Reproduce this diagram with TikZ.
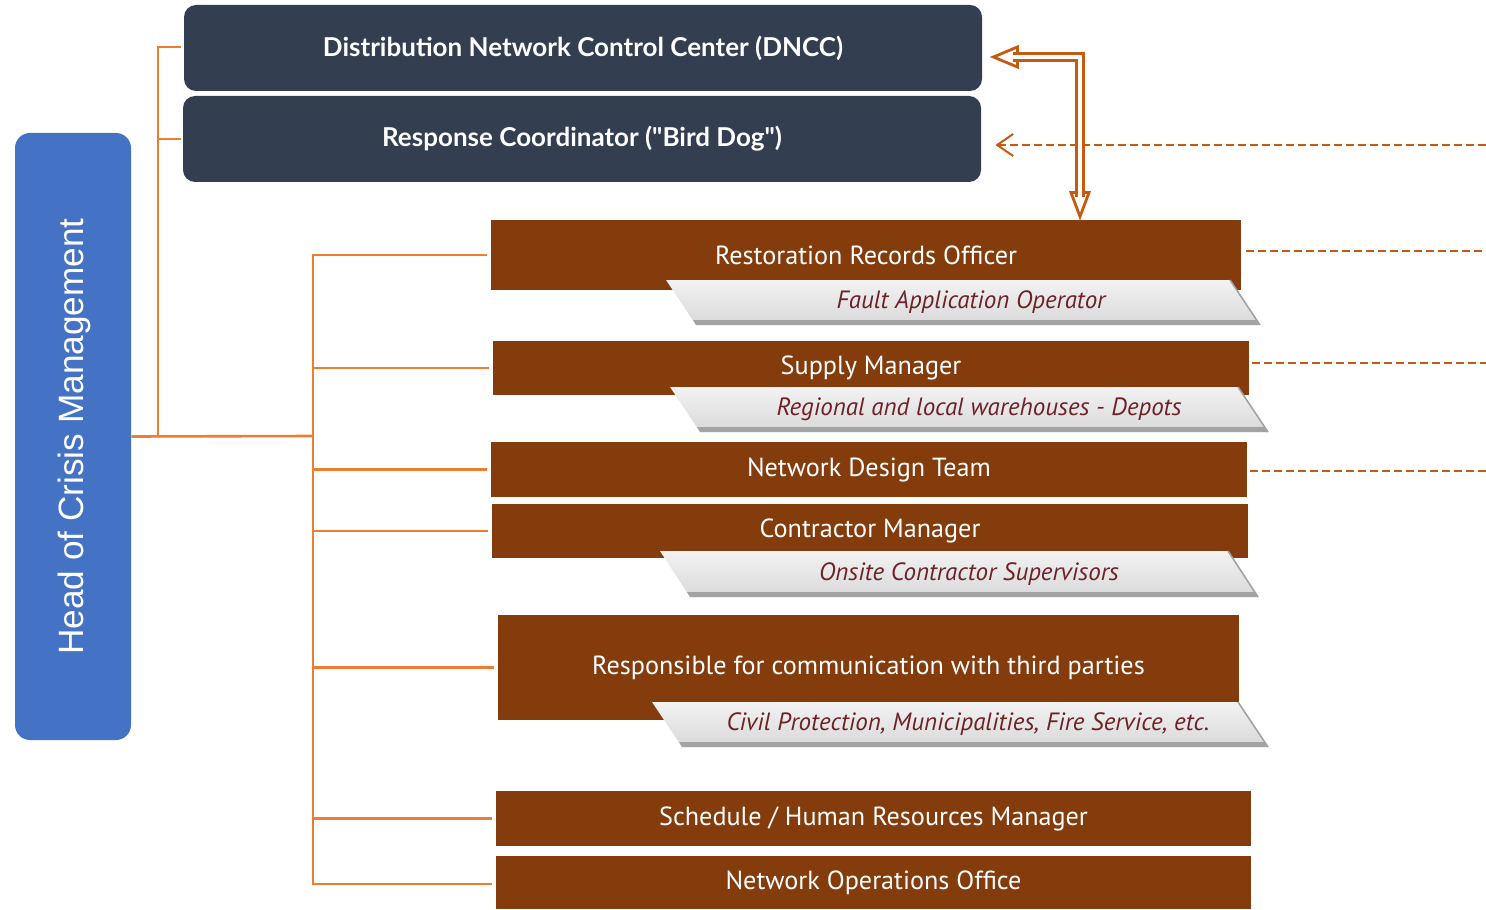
\documentclass[tikz,border=0pt]{standalone}
\usepackage{fontspec}
\usetikzlibrary{arrows.meta,calc}
\newfontfamily\headfont{Liberation Sans}
\newfontfamily\topfont{Lato}
\newfontfamily\boxfont{PT Sans}
\definecolor{headblue}{HTML}{4472C4}
\definecolor{navy}{HTML}{333F50}
\definecolor{rust}{HTML}{843C0C}
\definecolor{linkorange}{HTML}{ED7D31}
\definecolor{darkorange}{HTML}{C55A11}
\definecolor{tagtext}{HTML}{6E2226}
\definecolor{tagshade}{HTML}{A3A3A3}
\tikzset{
  headbox/.style={fill=headblue, rounded corners=7.5pt, inner sep=0pt},
  topbox/.style={fill=navy, rounded corners=6pt, inner sep=0pt, text=white,
    font=\topfont\bfseries\fontsize{13}{16}\selectfont},
  rolebox/.style={fill=rust, inner sep=0pt, text=white,
    font=\boxfont\fontsize{13.1}{15}\selectfont},
  tagbody/.style={top color=white!95!black, bottom color=white!85!black},
  tagtxt/.style={inner sep=0pt, text=tagtext, font=\boxfont\itshape\fontsize{12.5}{14}\selectfont},
  bracket/.style={draw=linkorange, line width=1.3pt},
  feedline/.style={draw=darkorange, line width=1pt, dash pattern=on 4pt off 2pt},
  dblline/.style={draw=darkorange, double=white, double distance=2.4pt, line width=1.4pt, line join=miter},
  dbltip/.style={draw=darkorange, fill=white, line width=1.4pt, line join=miter},
}
% grey slanted tag under a role box:
% #1 top y, #2 bottom y, #3 left x at top, #4 right x at top, #5 text x, #6 label
\newcommand\greytag[6]{%
  \path[tagbody] (#3,#1) -- (#4,#1) -- ({#4+30},#2) -- ({#3+30},#2) -- cycle;
  \fill[tagshade] ({#3+27},{#2-5}) -- ({#4+27},{#2-5}) -- ({#4+30},#2) -- ({#3+30},#2) -- cycle;
  \draw[tagshade, line width=0.8pt] (#4,#1) -- ({#4+30},#2);
  \node[tagtxt] at (#5,{(#1+#2)/2}) {#6};
}
\begin{document}
\begin{tikzpicture}[x=0.5pt,y=-0.5pt]
\useasboundingbox (0,0) rectangle (1486,909);

% left-hand head of the organisation
\node[headbox, minimum width=58pt, minimum height=303.5pt] (head) at (73,436.5) {};
\node[rotate=90, text=white, font=\headfont\fontsize{17.6}{20}\selectfont] at (74,436.5) {Head of Crisis Management};

% control room boxes
\node[topbox, minimum width=399pt, minimum height=43pt] (dncc) at (583,48) {Distribution Network Control Center (DNCC)};
\node[topbox, minimum width=399pt, minimum height=43pt] (rc) at (582,139) {Response Coordinator ("Bird Dog")};

% role boxes
\node[rolebox, minimum width=375pt, minimum height=35pt] (rro) at (866,255) {Restoration Records Officer};
\node[rolebox, minimum width=378pt, minimum height=27pt] (sm) at (871,368) {Supply Manager};
\node[rolebox, minimum width=378pt, minimum height=27.5pt] (ndt) at (869,469.5) {Network Design Team};
\node[rolebox, minimum width=378pt, minimum height=27pt] (cm) at (870,531) {Contractor Manager};
\node[rolebox, minimum width=370.5pt, minimum height=52.5pt] (rcomm) at (868.5,667.5) {Responsible for communication with third parties};
\node[rolebox, minimum width=377.5pt, minimum height=27.5pt] (shr) at (873.5,818.5) {Schedule / Human Resources Manager};
\node[rolebox, minimum width=377.5pt, minimum height=26.5pt] (noo) at (873.5,882.5) {Network Operations Office};

% grey sub-role tags
\greytag{280}{325}{666}{1230}{971}{Fault Application Operator}
\greytag{387}{432}{670}{1238}{979}{Regional and local warehouses - Depots}
\greytag{551}{597}{660}{1228}{969}{Onsite Contractor Supervisors}
\greytag{702}{747}{652}{1238}{968}{Civil Protection, Municipalities, Fire Service, etc.}

% reporting lines
\coordinate (hubtop) at (158,436);
\coordinate (hub) at (313,436);
\draw[bracket] (head.east) -- (hub);
\draw[bracket] (hubtop) |- ([xshift=-1.5pt,yshift=0.5pt]dncc.west);
\draw[bracket] (hubtop) |- ([xshift=-1pt]rc.west);
\draw[bracket] (hub) |- ([xshift=-2pt]rro.west);
\draw[bracket] (hub) |- ([xshift=-2pt]sm.west);
\draw[bracket] (hub) |- ([xshift=-2pt]ndt.west);
\draw[bracket] (hub) |- ([xshift=-2pt]cm.west);
\draw[bracket] (hub) |- ([xshift=-2pt]rcomm.west);
\draw[bracket] (hub) |- ([xshift=-2pt]shr.west);
\draw[bracket] (hub) |- ([xshift=-2pt,yshift=-0.75pt]noo.west);

% external feeds
\coordinate (rcfar) at (1486,145);
\coordinate (rrofar) at (1486,251);
\coordinate (smfar) at (1486,363);
\coordinate (ndtfar) at (1486,471);
\draw[feedline, {Straight Barb[length=8pt,width=11pt,line width=1pt]}-] ([xshift=7pt,yshift=-3pt]rc.east) -- (rcfar);
\draw[feedline] ([xshift=2.5pt,yshift=2pt]rro.east) -- (rrofar);
\draw[feedline] ([xshift=1.5pt,yshift=2.5pt]sm.east) -- (smfar);
\draw[feedline] ([xshift=1.5pt,yshift=-0.75pt]ndt.east) -- (ndtfar);

% two-way link between the control centre and the records officer
\coordinate (tipA) at ([xshift=5.5pt,yshift=-4.5pt]dncc.east);
\coordinate (tipB) at ([xshift=107pt,yshift=1.5pt]rro.north);
\draw[dbltip] (tipA) -- ++(24,-10) -- ++(0,20) -- cycle;
\draw[dbltip] (tipB) -- ++(-9,-24) -- ++(18,0) -- cycle;
\draw[dblline] ([xshift=10pt]tipA) -- (tipA -| tipB) -- ([yshift=10pt]tipB);
\end{tikzpicture}
\end{document}
